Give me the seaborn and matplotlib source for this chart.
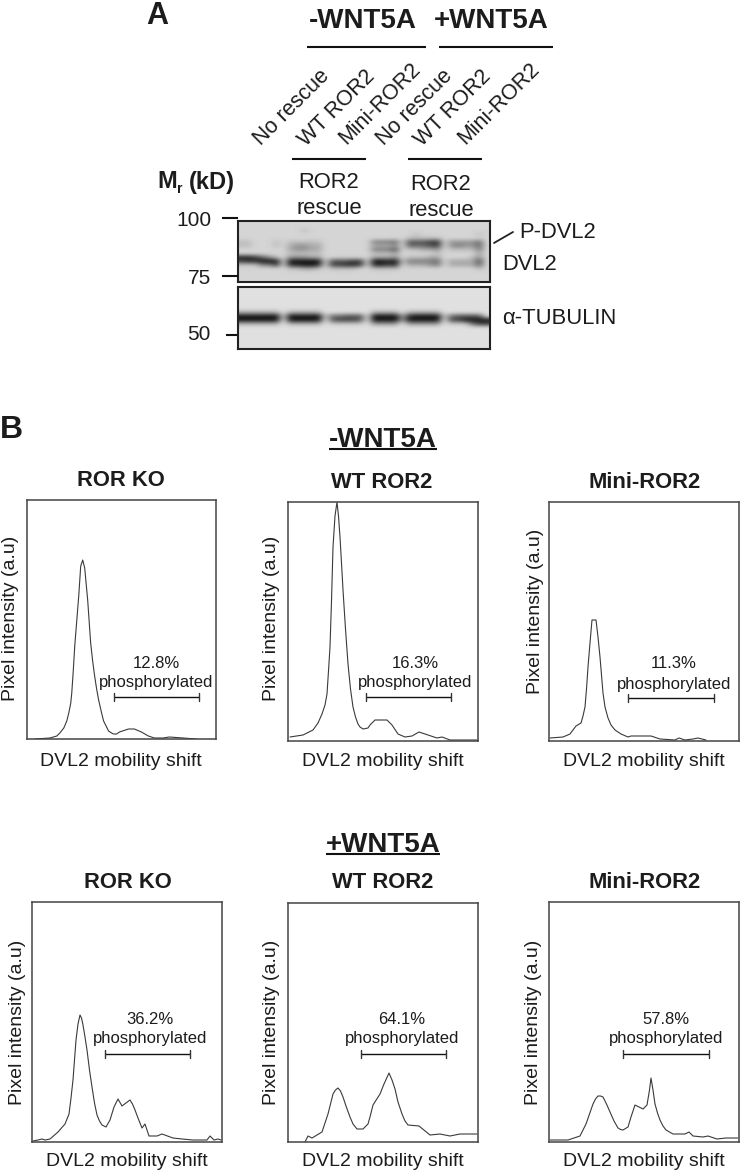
import numpy as np
import pandas as pd
import seaborn as sns
import matplotlib.pyplot as plt

W, H = 740, 1171

# densitometry traces (x along the lane, y = intensity)
ko_minus_x = [8,23,30,33,37,40,42,44,45,46.5,48,50,52,54,56,58,61,64,66,68,70,72,75,77,80,82,85,87,90,93,102,108,115,122,128,137,143,157,170]
ko_minus_y = [0,1,3,6,11,18,26,36,46,68,93,118,143,173,179,171,139,96,78,63,50,39,26,18,12,8,6,5,5,7,10,10,7,3,1,1,2,1,0]
wt_minus_x = [2,15,25,30,34,37,39,40.5,42,43.5,45,47,49,50.5,52,53.5,55,57.5,60,62.5,65,67.5,70,72,75,80,82,87,99,104,110,117,124,131,140,149,154,162,189]
wt_minus_y = [4,6,11,18,27,36,47,70,94,140,194,225,239,225,204,178,151,112,77,52,34,24,17,14,12,13,16,21,21,16,7,4,5,9,6,3,4,1,1]
mini_minus_x = [1,14,21,27,32,34,36,37.5,39,41,43,47,49,51,52.5,54,56,59,62,66,72,79,82,102,111,126,130,136,144,149,157]
mini_minus_y = [3,4,7,15,18,25,34,52,74,98,121,121,104,84,66,48,34,23,16,11,7,4,5,5,2,1,3,1,2,3,1]
ko_plus_x = [1,6,10,13,18,26,33,37,39,41,42.5,44,46,48,49.5,51,53,55,57.5,60,62.5,65,67.5,70,74,78,82,86,90,98,100.5,103,106,110,113,117,125,130,141,150,161,175,178,182,186,189]
ko_plus_y = [1,2,3,2,3,10,18,28,44,62,82,102,118,127,124,117,105,92,72,55,39,27,21,17,15,22,35,43,36,42,38,32,24,14,18,6,6,8,4,3,2,2,6,2,3,2]
wt_plus_x = [17,20,24,34,40,42.5,45,47.5,50,52.5,55,58,62,65,69,72,75,80,82,85,92,96,101,104,107,110,114,117,120,131,142,152,162,172,189]
wt_plus_y = [0,6,4,10,28,38,48,52,54,51,45,36,25,18,13,13,13,18,25,37,48,58,69,62,53,40,28,21,17,16,7,8,6,8,8]
mini_plus_x = [1,19,31,37,40.5,44,46.5,49,51.5,54,57.5,61,65,69,71.5,74,79,82,86,94,98,100.5,102,104,106,108.5,111,114,117,124,136,140,144,154,159,168,177,189]
mini_plus_y = [2,2,6,18,28,38,43,46,46,45,38,30,21,14,12.5,12,15,25,37,33,37,52,64,52,38,29,22,16,12,8,8,10,6,5,6,3,4,4]

panel_titles = ["ROR KO", "WT ROR2", "Mini-ROR2", "ROR KO", "WT ROR2", "Mini-ROR2"]
percent_labels = ["12.8%", "16.3%", "11.3%", "36.2%", "64.1%", "57.8%"]
lane_labels = ["No rescue", "WT ROR2", "Mini-ROR2", "No rescue", "WT ROR2", "Mini-ROR2"]
mw_labels = ["100", "75", "50"]

# blot darkness 0-9, read by eye, one string per row (spaces only split the lanes)
dvl2_blot = [
    "000000 0 00000 0 00000 0 0000 0 00000 0 00000 0",
    "000000 0 00000 0 00000 0 0000 0 00000 0 00000 0",
    "000000 0 00100 0 00000 0 0000 0 00000 0 00000 0",
    "000000 0 00000 0 00000 0 0000 0 01000 0 00001 0",
    "000000 0 00000 0 00000 0 0000 0 11111 0 00000 0",
    "110001 0 11111 0 00000 0 4445 0 66678 0 33335 0",
    "110001 0 23322 0 00000 0 2223 0 55567 0 34335 0",
    "000000 0 23322 0 00000 0 4446 0 11223 0 11114 0",
    "000000 0 11111 0 00000 0 1112 0 00001 0 00002 0",
    "887531 0 33322 0 00000 0 2223 0 11122 0 00013 0",
    "788999 0 99999 0 66677 0 9989 1 44445 0 22226 0",
    "111447 0 88998 0 77887 0 8878 0 22234 0 22225 0",
    "000000 0 11221 0 11110 0 1111 0 00000 0 00001 0",
    "000000 0 00000 0 00000 0 0000 0 00000 0 00000 0",
    "000000 0 00000 0 00000 0 0000 0 00000 0 00000 0",
    "000000 0 00000 0 00000 0 0000 0 00000 0 00000 0",
]
tubulin_blot = [
    "000000 0 00000 0 00000 0 0000 0 00000 0 00000 0",
    "000000 0 00000 0 00000 0 0000 0 00000 0 00000 0",
    "000000 0 00000 0 00000 0 0000 0 00000 0 00000 0",
    "000000 0 00000 0 00000 0 0000 0 00000 0 00000 0",
    "000000 0 00000 0 00000 0 0000 0 00000 0 00000 0",
    "000000 0 00000 0 00000 0 0000 0 00000 0 00000 0",
    "222222 0 22222 0 00000 0 2222 0 22222 0 00000 0",
    "999999 1 99999 1 55666 0 9999 3 89999 1 56666 0",
    "999999 0 99999 0 67776 0 9999 3 99999 0 77999 9",
    "222222 0 22222 0 11111 0 3333 0 33333 0 11157 7",
    "000000 0 00000 0 00000 0 0000 0 00000 0 00000 0",
    "000000 0 00000 0 00000 0 0000 0 00000 0 00000 0",
    "000000 0 00000 0 00000 0 0000 0 00000 0 00000 0",
    "000000 0 00000 0 00000 0 0000 0 00000 0 00000 0",
    "000000 0 00000 0 00000 0 0000 0 00000 0 00000 0",
    "000000 0 00000 0 00000 0 0000 0 00000 0 00000 0",
]

sns.set_theme(style="white")
plt.rcParams['font.family'] = ['Liberation Sans', 'DejaVu Sans']
INK = '#1c1c1c'


def pxaxes(fig, x0, y0, x1, y1):
    return fig.add_axes([x0 / W, 1 - y1 / H, (x1 - x0) / W, (y1 - y0) / H])


def drawblot(fig, box, rows, vmin):
    ax = pxaxes(fig, *box)
    mat = np.array([[int(c) for c in r.replace(' ', '')] for r in rows])
    ax.imshow(mat, cmap='gray_r', vmin=vmin, vmax=10, aspect='auto', interpolation='bicubic')
    ax.set_xticks([])
    ax.set_yticks([])
    for s in ax.spines.values():
        s.set_visible(True)
        s.set_color('#222222')
        s.set_linewidth(1.5)


def drawtrace(fig, box, xs, ys):
    ax = pxaxes(fig, *box)
    df = pd.DataFrame({'lane': xs, 'intensity': ys})
    sns.lineplot(data=df, x='lane', y='intensity', ax=ax, color='#3a3a3a', lw=0.8, estimator=None,
                 sort=False, solid_joinstyle='round')
    ax.set_xlim(0, 190)
    ax.set_ylim(0, box[3] - box[1])
    ax.set(xlabel='', ylabel='', xticks=[], yticks=[])
    for s in ax.spines.values():
        s.set_visible(True)
        s.set_color('#444444')
        s.set_linewidth(1.1)


fig = plt.figure(figsize=(W / 100, H / 100), dpi=100)

drawblot(fig, (238, 221, 490, 282), dvl2_blot, -2)
drawblot(fig, (238, 287, 490, 349), tubulin_blot, -1.4)

boxes = [(27, 500, 216, 739), (288, 502, 478, 741), (549, 502, 739, 741),
         (32, 902, 222, 1142), (288, 903, 478, 1142), (549, 902, 739, 1142)]
traces = [(ko_minus_x, ko_minus_y), (wt_minus_x, wt_minus_y), (mini_minus_x, mini_minus_y),
          (ko_plus_x, ko_plus_y), (wt_plus_x, wt_plus_y), (mini_plus_x, mini_plus_y)]
for box, (xs, ys) in zip(boxes, traces):
    drawtrace(fig, box, xs, ys)

# everything else sits on one overlay in pixel coordinates
ov = fig.add_axes([0, 0, 1, 1], facecolor='none')
ov.set_xlim(0, W)
ov.set_ylim(H, 0)
ov.axis('off')


def label(x, y, s, size=15.8, weight='normal', ha='center', rotation=0):
    if rotation == 90:
        x = x + 3                # va=center leaves room for descenders
    else:
        y = y + 2
    return ov.text(x, y, s, fontsize=size, fontweight=weight, ha=ha, va='center',
                   rotation=rotation, color=INK)


def rule(x0, x1, y, lw=1.5):
    ov.plot([x0, x1], [y, y], color='#111111', lw=lw, solid_capstyle='butt')


label(157, 14, "A", size=22, weight='bold')
label(11, 428, "B", size=23, weight='bold')
label(363, 19, "-WNT5A", size=20, weight='bold')
label(491, 19, "+WNT5A", size=20, weight='bold')
rule(307, 426, 47)
rule(439, 553, 47)

lane_x = [292, 337, 380, 415, 453, 499]
lane_y = [106, 106, 102, 106, 106, 102]
for x, y, s in zip(lane_x, lane_y, lane_labels):
    label(x, y, s, size=15.5, rotation=45)

rule(292, 366, 159)
rule(408, 482, 159)
label(329, 180, "ROR2")
label(329, 207, "rescue")
label(441, 182, "ROR2")
label(441, 208, "rescue")

label(157, 180, "M", size=17, weight='bold', ha='left')
label(177, 187, "r", size=10, weight='bold', ha='left')
label(189, 180, "(kD)", size=17, weight='bold', ha='left')

for y, s in zip([219, 277, 332], mw_labels):
    label(211, y, s, size=15, ha='right')
rule(222, 238, 218)
rule(222, 238, 276)
rule(226, 237, 335)

label(519, 231, "P-DVL2", ha='left')
label(502, 262, "DVL2", ha='left')
label(502, 317, "\u03b1-TUBULIN", ha='left')
ov.plot([494, 513], [243, 232], color='#222222', lw=1.3)

label(383, 438, "-WNT5A", size=20, weight='bold')
rule(329, 437, 449)
label(383, 843, "+WNT5A", size=20, weight='bold')
rule(326, 440, 854)

title_x = [121, 382, 645, 128, 383, 645]
title_y = [479, 481, 481, 881, 881, 881]
for x, y, s in zip(title_x, title_y, panel_titles):
    label(x, y, s, weight='bold')

xlabel_x = [121, 383, 644, 127, 383, 644]
xlabel_y = [760, 760, 760, 1160, 1160, 1160]
for x, y in zip(xlabel_x, xlabel_y):
    label(x, y, "DVL2 mobility shift", size=14)

ylabel_x = [8, 268, 533, 15, 268, 531]
ylabel_y = [618, 618, 611, 1022, 1022, 1022]
for x, y in zip(ylabel_x, ylabel_y):
    label(x, y, "Pixel intensity (a.u)", size=14, rotation=90)

pct_x = [156, 415, 674, 150, 402, 666]
pct_y = [661, 662, 662, 1017, 1017, 1017]
phos_y = [681, 681, 682, 1037, 1037, 1037]
br_left = [114, 366, 628, 105, 361, 623]
br_right = [199, 451, 714, 190, 446, 709]
br_y = [697, 697, 698, 1054, 1054, 1054]
for i, s in enumerate(percent_labels):
    label(pct_x[i], pct_y[i], s, size=12)
    label(pct_x[i], phos_y[i], "phosphorylated", size=12)
    rule(br_left[i], br_right[i], br_y[i], lw=1.0)
    for xe in (br_left[i], br_right[i]):
        ov.plot([xe, xe], [br_y[i] - 4, br_y[i] + 4], color='#333333', lw=1.0)

fig.savefig('out.png', dpi=100)
